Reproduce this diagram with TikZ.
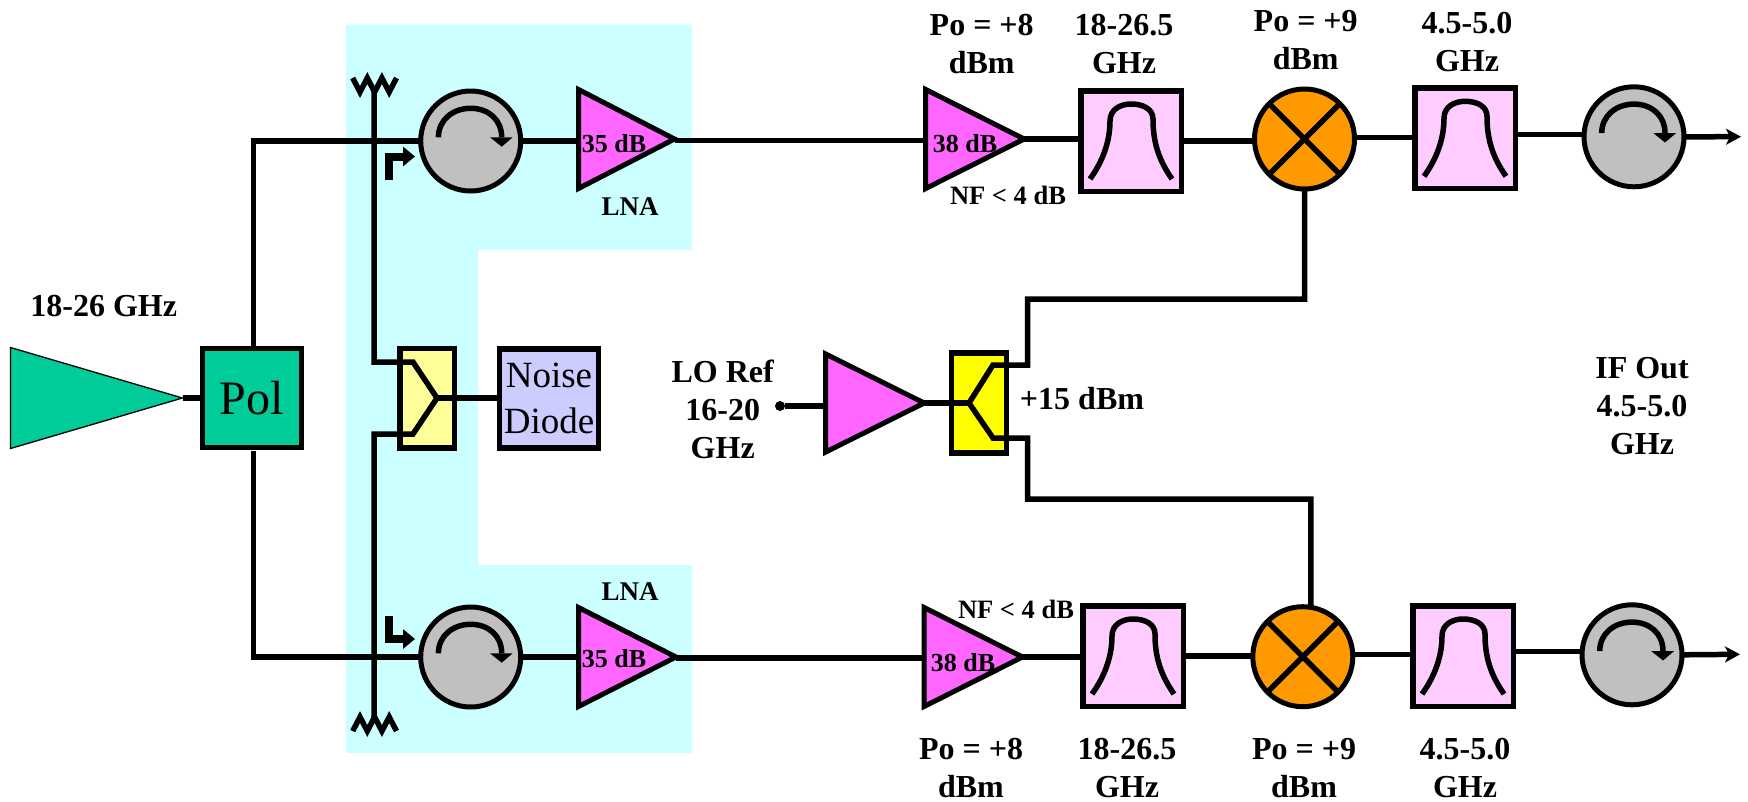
\documentclass[tikz,border=0pt]{standalone}
\usepackage{fontspec}
\setmainfont{Liberation Serif}
\usetikzlibrary{shapes.geometric,arrows.meta}
\definecolor{LB}{HTML}{CCFFFF}
\definecolor{HG}{HTML}{00CC99}
\definecolor{MG}{HTML}{FF66FF}
\definecolor{FP}{HTML}{FFCCFF}
\definecolor{OR}{HTML}{FF9900}
\definecolor{GR}{HTML}{C0C0C0}
\definecolor{HY}{HTML}{FFFF99}
\definecolor{SY}{HTML}{FFFF00}
\definecolor{ND}{HTML}{CCCCFF}
\tikzset{
  wire/.style={line width=5.5pt},
  block/.style={draw,line width=5.5pt,inner sep=0pt,outer sep=0pt,minimum width=#1},
  circ/.style={circle,draw,fill=GR,line width=5pt,inner sep=0pt,outer sep=0pt,minimum size=100pt},
  amptri/.style={isosceles triangle,isosceles triangle stretches,draw,fill=MG,
    line width=5pt,inner sep=0pt,outer sep=0pt,anchor=lower side},
  labb/.style={anchor=base,align=center,inner sep=0pt,font=\bfseries\fontsize{32}{38}\selectfont},
  labs/.style={anchor=base,inner sep=0pt,font=\bfseries\fontsize{26}{30}\selectfont},
  labn/.style={anchor=base,inner sep=0pt,font=\bfseries\fontsize{26.5}{30}\selectfont}
}
\begin{document}
\begin{tikzpicture}[x=1pt,y=-1pt]
  \useasboundingbox (0,0) rectangle (1748,801);
  \fill[LB] (346,24.5) -- (692,24.5) -- (692,250) -- (478,250) -- (478,565)
    -- (692,565) -- (692,753) -- (346,753) -- cycle;

  % horn, polarizer, noise source
  \node[isosceles triangle,isosceles triangle stretches,draw,fill=HG,line width=1.3pt,
    inner sep=0pt,outer sep=0pt,anchor=lower side,minimum height=172pt,minimum width=101pt]
    (horn) at (10.5,398) {};
  \node[block=99pt,fill=HG,minimum height=99pt,font=\fontsize{48}{50}\selectfont]
    (pol) at (252,398) {Pol};
  \node[block=99pt,fill=ND,minimum height=99pt,align=center,
    font=\fontsize{37}{46}\selectfont] (noise) at (549,398.7) {Noise\\Diode};
  \node[block=54.5pt,fill=HY,minimum height=99.5pt] (hybA) at (427.3,398.3) {};
  \node[block=55pt,fill=SY,minimum height=100pt] (hybB) at (979,403.2) {};

  \foreach \n/\x/\y in {circA/470.7/141,circB/470.7/657,circC/1634/136.8,circD/1632/654.8}{
    \node[circ] (\n) at (\x,\y) {};
    \draw[wire,shift={(\n.center)}] (-32.3,-3.7) .. controls (-32.3,-21) and (-18,-32.7) .. (0,-32.7)
      .. controls (18,-32.7) and (31,-21) .. (31,-3.7);
    \fill[shift={(\n.center)}] (19.3,-3.7) -- (42,-3.7) -- (31,5.7) -- cycle;
  }
  \foreach \n/\x/\y/\w/\h in {lnaA/578.5/139/96/99,lnaB/578.5/657/97.5/99,
    ampA/925.7/139/98.5/99,ampB/924/657/98.5/99,ampC/825.7/403/98.5/98}{
    \node[amptri,minimum height=\w pt,minimum width=\h pt] (\n) at (\x,\y) {};
  }
  \foreach \n/\x/\y in {filtA/1131/141,filtB/1133/656,filtC/1465/138.3,filtD/1463/656}{
    \node[block=100.5pt,fill=FP,minimum height=100.5pt] (\n) at (\x,\y) {};
    \draw[wire,shift={(\n.center)}] (-41,38) .. controls (-28,20) and (-21,0) .. (-21,-20)
      .. controls (-21,-32) and (-10,-37) .. (0,-37)
      .. controls (12,-37) and (22,-32) .. (22,-22)
      .. controls (22,0) and (27,18) .. (41,38);
  }
  \foreach \n/\x/\y in {mixA/1304.5/139,mixB/1302.8/656.7}{
    \node[circ,fill=OR] (\n) at (\x,\y) {};
    \draw[wire] (\n.north west) -- (\n.south east);
    \draw[wire] (\n.north east) -- (\n.south west);
  }
  \node[circle,fill,inner sep=0pt,minimum size=10pt] (loDot) at (780,406) {};

  \coordinate (hybU) at (413,362);
  \coordinate (hybL) at (413,434);
  \coordinate (hybJ) at (437,398);
  \coordinate (antA) at (374,92);
  \coordinate (antB) at (374,717);
  \coordinate (cornA) at (1027.7,299);
  \coordinate (spltA) at (1027.7,365);
  \coordinate (inA) at (993,365);
  \coordinate (loJ) at (969,403);
  \coordinate (inB) at (993,438);
  \coordinate (spltB) at (1027.7,438);
  \coordinate (cornB) at (1027.7,499);
  \coordinate (outC) at (1741,136.7);
  \coordinate (outD) at (1740,654.3);

  % signal paths
  \draw[wire] (horn.apex) -- (pol.west);
  \draw[wire] ([xshift=1.7pt]pol.north) |- (circA.west);
  \draw[wire] ([xshift=1.7pt,yshift=-3pt]pol.south) |- (circB.west);
  \draw[wire] (antA) |- (hybU) -- (hybJ) -- (hybL) -| (antB);
  \draw[wire] (hybJ) -- (noise.west |- hybJ);
  \draw[wire] (circA.east) -- (lnaA.lower side |- circA.east);
  \draw[wire] (circB.east) -- (lnaB.lower side |- circB.east);
  \draw[wire] ([yshift=-1.5pt]lnaA.apex) -- ([yshift=-1.5pt]ampA.lower side);
  \draw[wire] ([yshift=-1pt]lnaB.apex) -- ([yshift=-1pt]ampB.lower side);
  \draw[wire] (ampA.apex) -- (filtA.west |- ampA.apex);
  \draw[wire] (ampB.apex) -- (filtB.west |- ampB.apex);
  \draw[wire] (filtA.east) -- (mixA.west |- filtA.east);
  \draw[wire] (filtB.east) -- (mixB.west |- filtB.east);
  \draw[wire] ([yshift=1.5pt]mixA.east) -- ([yshift=1.5pt]mixA.east -| filtC.west);
  \draw[wire] ([yshift=2pt]mixB.east) -- ([yshift=2pt]mixB.east -| filtD.west);
  \draw[wire] ([yshift=4pt]filtC.east) -- ([yshift=4pt]filtC.east -| circC.west);
  \draw[wire] ([yshift=4.3pt]filtD.east) -- ([yshift=4.3pt]filtD.east -| circD.west);
  \draw[wire,-{Stealth[length=15pt,width=16pt,inset=4pt]}] (circC.east) -- (outC);
  \draw[wire,-{Stealth[length=15pt,width=16pt,inset=4pt]}] (circD.east) -- (outD);

  % local oscillator
  \draw[wire] (loDot) -- (ampC.lower side |- loDot);
  \draw[wire] (ampC.apex) -- (loJ);
  \draw[wire] (mixA.south) |- (cornA) -- (spltA) -- (inA) -- (loJ) -- (inB) -- (spltB)
    -- (cornB) -| ([xshift=8pt]mixB.north);

  % antenna stubs and switch arrows
  \draw[wire] (352.7,78) -- ++(7.3,14) -- ++(7.3,-14) -- ++(7.3,14) -- ++(7.3,-14) -- ++(7.3,14) -- ++(7.3,-14);
  \draw[wire] (352.7,731) -- ++(7.3,-14) -- ++(7.3,14) -- ++(7.3,-14) -- ++(7.3,14) -- ++(7.3,-14) -- ++(7.3,14);
  \draw[line width=8pt,-{Triangle[length=12pt,width=19pt]}] (389,180) |- (415,156.5);
  \draw[line width=8pt,-{Triangle[length=12pt,width=19pt]}] (389,616) |- (415,639);

  % labels
  \node[labb] (lbIn) at (103.7,316.7) {18-26 GHz};
  \node[labb] (lbPoA) at (981.7,73) {Po = +8\\dBm};
  \node[labb] (lbBwA) at (1124,73) {18-26.5\\GHz};
  \node[labb] (lbPoB) at (1305.7,69) {Po = +9\\dBm};
  \node[labb] (lbIfA) at (1467,71.7) {4.5-5.0\\GHz};
  \node[labb] (lbPoC) at (971,797) {Po = +8\\dBm};
  \node[labb] (lbBwB) at (1127,797) {18-26.5\\GHz};
  \node[labb] (lbPoD) at (1304,797) {Po = +9\\dBm};
  \node[labb] (lbIfB) at (1465,797) {4.5-5.0\\GHz};
  \node[labb] (lbLo) at (722.7,458) {LO Ref\\16-20\\GHz};
  \node[labb] (lbOut) at (1642,454) {IF Out\\4.5-5.0\\GHz};
  \node[labb] (lbDrv) at (1082,409) {+15 dBm};
  \node[labs,font=\bfseries\fontsize{27}{30}\selectfont] (lbLnaA) at (630,215.7) {LNA};
  \node[labs,font=\bfseries\fontsize{27}{30}\selectfont] (lbLnaB) at (630,600) {LNA};
  \node[labs] (lbGA) at (614,152) {35 dB};
  \node[labs] (lbGB) at (614,667.7) {35 dB};
  \node[labs] (lbGC) at (965,152) {38 dB};
  \node[labs] (lbGD) at (963,671.7) {38 dB};
  \node[labn] (lbNfA) at (1008,204) {NF < 4 dB};
  \node[labn] (lbNfB) at (1016,618) {NF < 4 dB};
\end{tikzpicture}
\end{document}
